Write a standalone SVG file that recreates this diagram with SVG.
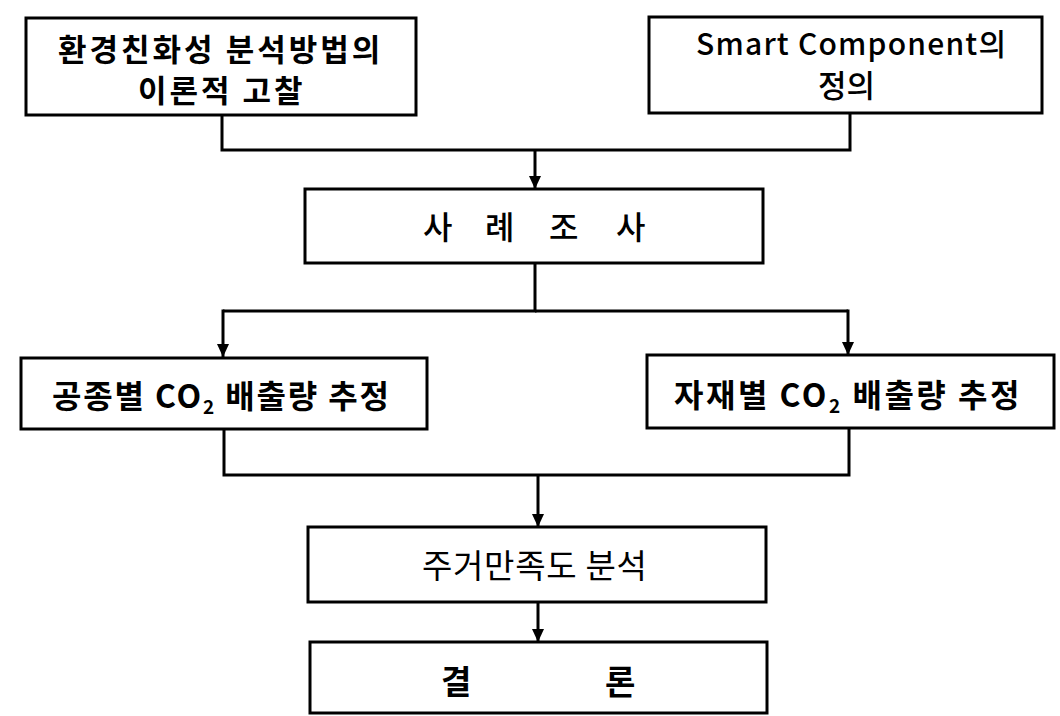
<svg xmlns="http://www.w3.org/2000/svg" width="1060" height="716" viewBox="0 0 1060 716">
<style>
.box{fill:#fff;stroke:#000;stroke-width:3}
.conn{fill:none;stroke:#000;stroke-width:3}
text{font-family:"Noto Sans CJK KR","Noto Sans",sans-serif;fill:#000}
.b{font-weight:700}
.m{font-weight:500}
.r{font-weight:400}
</style>
<defs>
<marker id="arr" markerUnits="userSpaceOnUse" markerWidth="16" markerHeight="14" refX="13" refY="6" orient="auto">
<path d="M0,0 L13,6 L0,12 Z" fill="#000"/>
</marker>
</defs>
<rect width="1060" height="716" fill="#fff"/>
<g id="connectors">
<path class="conn" d="M222,115 V150 H850 V113"/>
<path class="conn" d="M535,150 V189" marker-end="url(#arr)"/>
<path class="conn" d="M535,263 V311 H223"/>
<path class="conn" d="M535,311 H848"/>
<path class="conn" d="M223,309.5 V357" marker-end="url(#arr)"/>
<path class="conn" d="M848,309.5 V355" marker-end="url(#arr)"/>
<path class="conn" d="M224,429 V475 H849 V428"/>
<path class="conn" d="M538,475 V527" marker-end="url(#arr)"/>
<path class="conn" d="M538,602 V642" marker-end="url(#arr)"/>
</g>
<g id="node1">
<rect class="box" x="26" y="18" width="390" height="97"/>
<text class="b" font-size="31" letter-spacing="3"><tspan x="58" y="61">환경친화성 분석방법의</tspan><tspan x="138" y="102">이론적 고찰</tspan></text>
</g>
<g id="node2">
<rect class="box" x="649" y="17" width="393" height="96"/>
<text class="m" font-size="30" letter-spacing="1.2"><tspan x="696" y="55">Smart Component의</tspan><tspan x="818" y="97" font-size="31" letter-spacing="0">정의</tspan></text>
</g>
<g id="node3">
<rect class="box" x="305" y="189" width="458" height="74"/>
<text class="m" font-size="32" y="239"><tspan x="423">사 </tspan><tspan x="485">례 </tspan><tspan x="549">조 </tspan><tspan x="616">사</tspan></text>
</g>
<g id="node4">
<rect class="box" x="21" y="358" width="406" height="71"/>
<text class="b" font-size="32" letter-spacing="1.85" x="52" y="408">공종별 CO<tspan font-size="19" dy="6">2</tspan><tspan dy="-6"> 배출량 추정</tspan></text>
</g>
<g id="node5">
<rect class="box" x="647" y="355" width="407" height="73"/>
<text class="b" font-size="32" letter-spacing="2.5" x="674" y="407">자재별 CO<tspan font-size="19" dy="6">2</tspan><tspan dy="-6"> 배출량 추정</tspan></text>
</g>
<g id="node6">
<rect class="box" x="308" y="527" width="458" height="75"/>
<text class="r" font-size="33" letter-spacing="0.7" x="422" y="578">주거만족도 분석</text>
</g>
<g id="node7">
<rect class="box" x="310" y="642" width="457" height="71"/>
<text class="b" font-size="33" y="694"><tspan x="441">결 </tspan><tspan x="605">론</tspan></text>
</g>
</svg>
